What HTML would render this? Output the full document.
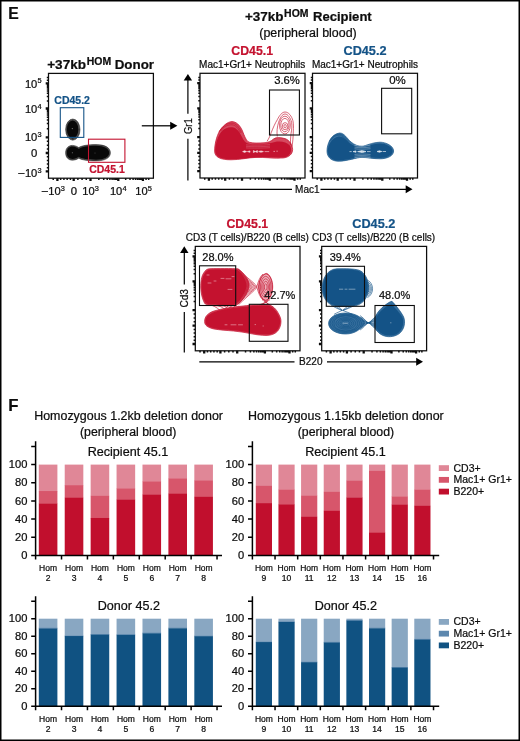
<!DOCTYPE html>
<html lang="en"><head><meta charset="utf-8"><title>Figure E-F</title>
<style>
html,body{margin:0;padding:0;background:#fff;}
body{width:520px;height:741px;overflow:hidden;}
svg{display:block;font-family:"Liberation Sans",Arial,Helvetica,sans-serif;fill:#0d0d0d;}
text{stroke:#0d0d0d;stroke-width:0.22px;}
.r{fill:#C4122F;stroke:#C4122F}
.u{fill:#145387;stroke:#145387}
.b{font-weight:bold}
.m{text-anchor:middle}
.e{text-anchor:end}
.ax{stroke:#000;stroke-width:1.5;fill:none}
.fr{stroke:#0d0d0d;stroke-width:1.25;fill:none}
.gt{stroke:#0d0d0d;stroke-width:1.1;fill:none}
.tk{stroke:#0d0d0d;fill:none}
</style></head><body>
<svg width="520" height="741" viewBox="0 0 520 741">
<rect x="0" y="0" width="520" height="741" fill="#fff"/>

<rect x="0.75" y="0.75" width="518.5" height="739.5" fill="none" stroke="#000" stroke-width="1.5"/>
<text x="8.3" y="19.0" font-size="15.7" class="b">E</text>
<text y="68.6" font-size="13.5" class="b"><tspan x="47.2" textLength="38.8" lengthAdjust="spacingAndGlyphs">+37kb</tspan><tspan x="86.8" dy="-4.1" font-size="10.2" textLength="24.4" lengthAdjust="spacingAndGlyphs">HOM</tspan><tspan x="110.95" dy="4.1" textLength="43.15" lengthAdjust="spacingAndGlyphs"> Donor</tspan></text>
<text y="21.1" font-size="13.5" class="b"><tspan x="245" textLength="38.6" lengthAdjust="spacingAndGlyphs">+37kb</tspan><tspan x="284.1" dy="-4.1" font-size="10.2" textLength="24.4" lengthAdjust="spacingAndGlyphs">HOM</tspan><tspan x="309.35" dy="4.1" textLength="62.35" lengthAdjust="spacingAndGlyphs"> Recipient</tspan></text>
<text x="308" y="36.5" font-size="12.45" class="m">(peripheral blood)</text>
<text x="252.2" y="55" font-size="12.3" class="b m r">CD45.1</text>
<text x="365" y="55" font-size="12.3" class="b m u" textLength="43" lengthAdjust="spacingAndGlyphs">CD45.2</text>
<text x="252.2" y="68" font-size="10" class="m">Mac1+Gr1+ Neutrophils</text>
<text x="365" y="68" font-size="10" class="m">Mac1+Gr1+ Neutrophils</text>
<rect x="48.5" y="73.4" width="104.9" height="104.8" class="fr"/>
<path d="M45.7,83.4H48.5M45.7,108.5H48.5M45.7,137.3H48.5M45.7,153.0H48.5M45.7,171.4H48.5M57.4,178.2V181.0M73.7,178.2V181.0M90.5,178.2V181.0M118.3,178.2V181.0M142.9,178.2V181.0" class="tk" stroke-width="2.3"/>
<path d="M46.8,100.94H48.5M46.8,96.51H48.5M46.8,93.36H48.5M46.8,90.93H48.5M46.8,88.94H48.5M46.8,87.25H48.5M46.8,85.79H48.5M46.8,84.51H48.5M46.8,128.65H48.5M46.8,123.58H48.5M46.8,119.98H48.5M46.8,117.18H48.5M46.8,114.90H48.5M46.8,112.97H48.5M46.8,111.30H48.5M46.8,109.83H48.5M46.8,141.26H48.5M46.8,145.19H48.5M46.8,149.12H48.5M46.8,156.72H48.5M46.8,160.38H48.5M46.8,164.05H48.5M46.8,167.72H48.5M46.8,80.21H48.5M46.8,77.59H48.5M98.83,178.2V179.9M103.72,178.2V179.9M107.20,178.2V179.9M109.89,178.2V179.9M112.09,178.2V179.9M113.95,178.2V179.9M115.56,178.2V179.9M116.99,178.2V179.9M125.68,178.2V179.9M130.02,178.2V179.9M133.10,178.2V179.9M135.49,178.2V179.9M137.44,178.2V179.9M139.09,178.2V179.9M140.52,178.2V179.9M141.78,178.2V179.9M60.67,178.2V179.9M63.92,178.2V179.9M67.17,178.2V179.9M70.42,178.2V179.9M77.87,178.2V179.9M82.07,178.2V179.9M86.26,178.2V179.9M146.06,178.2V179.9M148.68,178.2V179.9M53.22,178.2V179.9" class="tk" stroke-width="1.5"/>
<text y="87.5" font-size="10.3"><tspan x="24.9" textLength="12.4" lengthAdjust="spacingAndGlyphs">10</tspan><tspan x="37.4" dy="-4.1" font-size="7.4">5</tspan></text>
<text y="112.9" font-size="10.3"><tspan x="24.9" textLength="12.4" lengthAdjust="spacingAndGlyphs">10</tspan><tspan x="37.4" dy="-4.1" font-size="7.4">4</tspan></text>
<text y="141.1" font-size="10.3"><tspan x="24.9" textLength="12.4" lengthAdjust="spacingAndGlyphs">10</tspan><tspan x="37.4" dy="-4.1" font-size="7.4">3</tspan></text>
<text x="37.2" y="156.5" font-size="10.3" class="e" textLength="6.3" lengthAdjust="spacingAndGlyphs">0</text>
<text y="176.6" font-size="10.3"><tspan x="17.6" textLength="7.2" lengthAdjust="spacingAndGlyphs">−</tspan><tspan x="24.9" textLength="12.4" lengthAdjust="spacingAndGlyphs">10</tspan><tspan x="37.4" dy="-4.1" font-size="7.4">3</tspan></text>
<text y="195" font-size="10.3"><tspan x="41.0" textLength="7.2" lengthAdjust="spacingAndGlyphs">−</tspan><tspan x="48.3" textLength="12.4" lengthAdjust="spacingAndGlyphs">10</tspan><tspan x="60.8" dy="-4.1" font-size="7.4">3</tspan></text>
<text x="73.8" y="195" font-size="10.3" class="m" textLength="6.3" lengthAdjust="spacingAndGlyphs">0</text>
<text y="195" font-size="10.3"><tspan x="82.3" textLength="12.4" lengthAdjust="spacingAndGlyphs">10</tspan><tspan x="94.8" dy="-4.1" font-size="7.4">3</tspan></text>
<text y="195" font-size="10.3"><tspan x="109.9" textLength="12.4" lengthAdjust="spacingAndGlyphs">10</tspan><tspan x="122.4" dy="-4.1" font-size="7.4">4</tspan></text>
<text y="195" font-size="10.3"><tspan x="135.3" textLength="12.4" lengthAdjust="spacingAndGlyphs">10</tspan><tspan x="147.8" dy="-4.1" font-size="7.4">5</tspan></text>
<g fill="#4a4a4a" stroke="#1a1a1a" stroke-width="0.5">
<ellipse cx="72.8" cy="129.6" rx="7.2" ry="10.6"/>
<path d="M65.6,152.8 C65.6,148 68.6,145.4 72.4,145.4 C75,145.4 77,146.4 78.8,147.6 C81.5,145.6 88,144.6 96,144.6 C105.6,144.6 110.4,148 110.4,152.8 C110.4,157.6 105.6,160.9 96,160.9 C88,160.9 81.5,159.9 78.8,158.2 C77,159.3 75,160.2 72.4,160.2 C68.6,160.2 65.6,157.6 65.6,152.8 Z"/>
</g>
<g fill="#080808">
<ellipse cx="72.6" cy="129.4" rx="5.7" ry="9"/>
<path d="M66.8,152.8 C66.8,148.8 69.3,146.6 72.5,146.6 C75,146.6 77,147.8 78.8,149 C81.5,146.8 88,145.8 96,145.8 C104.6,145.8 109.2,148.8 109.2,152.8 C109.2,156.8 104.6,159.7 96,159.7 C88,159.7 81.5,158.7 78.8,156.8 C77,158 75,159 72.5,159 C69.3,159 66.8,156.8 66.8,152.8 Z"/>
</g>
<g fill="#fff" opacity="0.5"><circle cx="72.3" cy="128.6" r="0.6"/><circle cx="72.3" cy="152.8" r="0.5"/><circle cx="95" cy="153" r="0.4"/></g>
<rect x="60.3" y="107.7" width="23.5" height="29.7" fill="none" stroke="#145387" stroke-width="1.1"/>
<rect x="88.5" y="139.2" width="36.4" height="23.1" fill="none" stroke="#C4122F" stroke-width="1.1"/>
<text x="54.3" y="103.8" font-size="10.5" class="b u">CD45.2</text>
<text x="89.2" y="173" font-size="10.5" class="b r">CD45.1</text>
<line x1="141.8" y1="125.8" x2="171" y2="125.8" stroke="#000" stroke-width="1.25"/>
<path d="M177.4,125.8 L170.2,121.8 L170.2,129.8 Z" fill="#000"/>
<rect x="200" y="73.3" width="105.0" height="104.7" class="fr"/>
<path d="M197.2,83.2H200M197.2,108.4H200M197.2,137.2H200M197.2,152.9H200M197.2,171.2H200M208.9,178V180.8M225.2,178V180.8M242.0,178V180.8M269.8,178V180.8M294.5,178V180.8" class="tk" stroke-width="2.3"/>
<path d="M198.3,100.81H200M198.3,96.39H200M198.3,93.25H200M198.3,90.81H200M198.3,88.82H200M198.3,87.14H200M198.3,85.68H200M198.3,84.40H200M198.3,128.50H200M198.3,123.43H200M198.3,119.83H200M198.3,117.04H200M198.3,114.76H200M198.3,112.83H200M198.3,111.16H200M198.3,109.69H200M198.3,141.09H200M198.3,145.02H200M198.3,148.95H200M198.3,156.54H200M198.3,160.20H200M198.3,163.87H200M198.3,167.53H200M198.3,80.11H200M198.3,77.49H200M250.38,178V179.7M255.28,178V179.7M258.75,178V179.7M261.45,178V179.7M263.65,178V179.7M265.51,178V179.7M267.13,178V179.7M268.55,178V179.7M277.25,178V179.7M281.60,178V179.7M284.68,178V179.7M287.07,178V179.7M289.03,178V179.7M290.68,178V179.7M292.11,178V179.7M293.37,178V179.7M212.18,178V179.7M215.44,178V179.7M218.69,178V179.7M221.94,178V179.7M229.40,178V179.7M233.60,178V179.7M237.80,178V179.7M297.65,178V179.7M300.27,178V179.7M204.72,178V179.7" class="tk" stroke-width="1.5"/>
<rect x="312.5" y="73.3" width="105.0" height="104.7" class="fr"/>
<path d="M309.7,83.2H312.5M309.7,108.4H312.5M309.7,137.2H312.5M309.7,152.9H312.5M309.7,171.2H312.5M321.4,178V180.8M337.7,178V180.8M354.5,178V180.8M382.3,178V180.8M407.0,178V180.8" class="tk" stroke-width="2.3"/>
<path d="M310.8,100.81H312.5M310.8,96.39H312.5M310.8,93.25H312.5M310.8,90.81H312.5M310.8,88.82H312.5M310.8,87.14H312.5M310.8,85.68H312.5M310.8,84.40H312.5M310.8,128.50H312.5M310.8,123.43H312.5M310.8,119.83H312.5M310.8,117.04H312.5M310.8,114.76H312.5M310.8,112.83H312.5M310.8,111.16H312.5M310.8,109.69H312.5M310.8,141.09H312.5M310.8,145.02H312.5M310.8,148.95H312.5M310.8,156.54H312.5M310.8,160.20H312.5M310.8,163.87H312.5M310.8,167.53H312.5M310.8,80.11H312.5M310.8,77.49H312.5M362.88,178V179.7M367.78,178V179.7M371.25,178V179.7M373.95,178V179.7M376.15,178V179.7M378.01,178V179.7M379.63,178V179.7M381.05,178V179.7M389.75,178V179.7M394.10,178V179.7M397.18,178V179.7M399.57,178V179.7M401.53,178V179.7M403.18,178V179.7M404.61,178V179.7M405.87,178V179.7M324.68,178V179.7M327.94,178V179.7M331.19,178V179.7M334.44,178V179.7M341.90,178V179.7M346.10,178V179.7M350.30,178V179.7M410.15,178V179.7M412.77,178V179.7M317.23,178V179.7" class="tk" stroke-width="1.5"/>
<line x1="187.9" y1="79.0" x2="187.9" y2="113.7" stroke="#000" stroke-width="1.2"/>
<line x1="187.9" y1="138.8" x2="187.9" y2="180.4" stroke="#000" stroke-width="1.2"/>
<path d="M187.9,74.0 L183.70000000000002,80.6 L192.1,80.6 Z" fill="#000"/>
<text x="191.8" y="126.1" font-size="10.8" class="m" textLength="16" lengthAdjust="spacingAndGlyphs" transform="rotate(-90 191.8 126.1)">Gr1</text>
<line x1="199.3" y1="189.3" x2="292" y2="189.3" stroke="#000" stroke-width="1.2"/>
<line x1="320.5" y1="189.3" x2="407.5" y2="189.3" stroke="#000" stroke-width="1.2"/>
<path d="M412.5,189.3 L405.7,185.25 L405.7,193.35000000000002 Z" fill="#000"/>
<text x="307.3" y="192.9" font-size="10" class="m">Mac1</text>
<g stroke-linejoin="round">
<path d="M214.6,151 C214.6,144 217,133 222,127.6 C225.5,123.6 229,121.6 232,121.6 C236,121.6 240,125 242.5,131 C244.5,136 246,140.5 249,142.2 C253,143.4 259,143 264,142.8 C268,142.6 271,141.4 273.5,139 C276,137 281,137.4 285,138.6 C289.5,140 292.6,145 292.6,149.5 C292.6,154 289,157.4 283,158 C275,158.6 265,157.2 256,157.4 C248,157.6 240,159.8 231,159.8 C221,159.8 214.6,157.5 214.6,151 Z" fill="#D5485E" stroke="#C4122F" stroke-width="0.7"/>
<path d="M215.2,151 C215.2,145 217.6,135.6 222,131 C225.6,127.6 230,126.6 233.6,127.6 C237.6,128.8 240,133 242,137 C243.6,140.6 245.6,143 249,143.8 C253,144.6 259,144.2 264,144 C269,143.8 273,142.4 277,141.6 C282,141 287,142.4 289.8,145.6 C292,148.6 291.6,154 287,156.6 C282,158.2 272,156.9 262,157 C252,157.1 242,159.3 231,159.3 C222,159.3 215.2,157 215.2,151 Z" fill="#C4122F"/>
<path d="M267,141.3 C269,138.6 270.4,135 271.2,132.7 C273,128 275,123.4 277.3,119.7 C279.4,115.6 282,112 285,112 C288.6,112 291.6,116 292.9,120.6 C293.6,124 293.6,128 293.3,131 C293.2,137 292.8,142 292,146.5 M277.3,136.5 C276.6,132 277.2,126.6 278.6,122.3 C280,118 282.2,114 285,114 C288,114 290.4,118 291.6,122.3 C292.2,126 291.8,130 291,133.5 C290.6,137 290.4,141 290.4,145 M279.5,125.1 a5.4,8.9 0 1,0 10.8,0 a5.4,8.9 0 1,0 -10.8,0 M280.8,125.1 a4.1,6.7 0 1,0 8.2,0 a4.1,6.7 0 1,0 -8.2,0 M282.3,126.2 a2.8,3.6 0 1,0 5.6,0 a2.8,3.6 0 1,0 -5.6,0 M283.9,126.2 a1.2,1.7 0 1,0 2.4,0 a1.2,1.7 0 1,0 -2.4,0 M219,132 C222,126.6 227,123 232,123.2 C236,123.4 239,127 241.4,132.4 M220.6,131 C223.4,126.8 227.6,124.6 232,124.8 C235.6,125 238.4,128.4 240.4,133" fill="none" stroke="#C4122F" stroke-width="0.65"/>
</g>
<path d="M246,144.8 C252,145.4 262,145.4 270,144.5 M246,146.3 C252,146.8 262,146.8 270,146.1 M246,147.9 C252,148.2 262,148.2 270,147.7" fill="none" stroke="#fff" stroke-width="0.55" opacity="0.35"/>
<path d="M242.6,151.6 l2,-0.8 l2,0.8 l-2,0.8 Z M247.4,151.6 l2.6,-0.7 v1.4 Z M253.4,150.6 l2,1 l2,-1 v2 l-2,-1 l-2,1 Z M258.6,151.6 l2.4,-0.7 l2.4,0.7 l-2.4,0.7 Z M264.6,151.6 h4.6 M273.4,151.4 h1.6 M276.4,151.2 h1.4" fill="#fff" stroke="#fff" stroke-width="0.6" opacity="0.85" stroke-linejoin="round"/>
<rect x="269.5" y="90" width="29.9" height="45" class="gt"/>
<text x="287" y="84.3" font-size="10.5" class="m" textLength="25.7" lengthAdjust="spacingAndGlyphs">3.6%</text>
<g stroke-linejoin="round">
<path d="M327,151 C327,144 331,134 339.6,133 C344.5,133 347,138.6 351,142 C354.6,145 358,146.2 362,146.2 C366,146 371,142.6 380,142.2 C386,142.2 393.6,146 393.6,151 C393.6,156 387,158.8 380,158.8 C373,158.8 367,157.4 362,157.4 C356,157.4 348,161.2 338,161.2 C331,161 327,157 327,151 Z" fill="#3A72A0" stroke="#145387" stroke-width="0.7"/>
<path d="M327.8,151 C327.8,145.4 331.4,137.6 338.8,136.4 C344,136.2 347,141 351,144 C354.6,146.4 358,147.2 362,147.2 C366,147 371,143.8 380,143.4 C385.6,143.4 392.6,146.6 392.6,151 C392.6,155.4 386.6,157.9 380,157.9 C373,157.9 367,156.5 362,156.5 C356,156.5 348,160.4 338,160.4 C331.6,160.2 327.8,156.6 327.8,151 Z" fill="#145387"/>
<path d="M329.4,141.6 C331.6,136.6 335.4,134.2 339.4,134.2 C343.4,134.4 346,138.6 349,141.6 M330.8,140.6 C333,136.8 336,135.2 339.4,135.2 C342.6,135.4 345,139 347.8,141.8" fill="none" stroke="#145387" stroke-width="0.65"/>
</g>
<path d="M354.5,145.3 C359,146.4 365,146.4 370.5,145.1 M354.5,147.1 C359,147.9 365,147.9 370.5,147.0 M354.5,148.8 C359,149.3 365,149.3 370.5,148.7 M354.5,154.4 C359,153.9 365,153.9 370.5,154.5 M354.5,156.1 C359,155.3 365,155.3 370.5,156.2 M354.5,157.7 C359,156.6 365,156.6 370.5,157.8" fill="none" stroke="#fff" stroke-width="0.6" opacity="0.5"/>
<path d="M349.5,151.6 h2.2 M353,151.6 l3,-0.7 v1.4 Z M357.6,151.6 l4.6,-1 v2 Z M362.6,150.7 l3.4,0.9 l-3.4,0.9 Z M367,151.6 h3.6 M377,151.5 l2.4,-0.7 l2.4,0.7 l-2.4,0.7 Z M382.6,151.5 h3.4" fill="#fff" stroke="#fff" stroke-width="0.7" opacity="0.85" stroke-linejoin="round"/>
<rect x="381.6" y="88.3" width="30.1" height="45.5" class="gt"/>
<text x="397.5" y="84.3" font-size="10.5" class="m" textLength="16.6" lengthAdjust="spacingAndGlyphs">0%</text>
<text x="247.3" y="228" font-size="12.3" class="b m r">CD45.1</text>
<text x="373.8" y="228" font-size="12.3" class="b m u" textLength="43" lengthAdjust="spacingAndGlyphs">CD45.2</text>
<text x="247.3" y="241.3" font-size="10" class="m">CD3 (T cells)/B220 (B cells)</text>
<text x="373.6" y="241.3" font-size="10" class="m">CD3 (T cells)/B220 (B cells)</text>
<rect x="195.3" y="246.4" width="104.7" height="104.4" class="fr"/>
<path d="M192.5,256.3H195.3M192.5,281.4H195.3M192.5,310.1H195.3M192.5,325.7H195.3M192.5,344.0H195.3M204.2,350.8V353.6M220.4,350.8V353.6M237.2,350.8V353.6M264.9,350.8V353.6M289.5,350.8V353.6" class="tk" stroke-width="2.3"/>
<path d="M193.6,273.83H195.3M193.6,269.42H195.3M193.6,266.29H195.3M193.6,263.86H195.3M193.6,261.88H195.3M193.6,260.20H195.3M193.6,258.75H195.3M193.6,257.46H195.3M193.6,301.44H195.3M193.6,296.39H195.3M193.6,292.80H195.3M193.6,290.02H195.3M193.6,287.74H195.3M193.6,285.82H195.3M193.6,284.16H195.3M193.6,282.69H195.3M193.6,314.00H195.3M193.6,317.91H195.3M193.6,321.83H195.3M193.6,329.40H195.3M193.6,333.05H195.3M193.6,336.71H195.3M193.6,340.36H195.3M193.6,253.19H195.3M193.6,250.58H195.3M245.53,350.8V352.5M250.42,350.8V352.5M253.88,350.8V352.5M256.57,350.8V352.5M258.77,350.8V352.5M260.63,350.8V352.5M262.24,350.8V352.5M263.66,350.8V352.5M272.33,350.8V352.5M276.66,350.8V352.5M279.74,350.8V352.5M282.12,350.8V352.5M284.07,350.8V352.5M285.72,350.8V352.5M287.15,350.8V352.5M288.40,350.8V352.5M207.45,350.8V352.5M210.69,350.8V352.5M213.94,350.8V352.5M217.18,350.8V352.5M224.62,350.8V352.5M228.80,350.8V352.5M232.99,350.8V352.5M292.67,350.8V352.5M295.29,350.8V352.5M200.01,350.8V352.5" class="tk" stroke-width="1.5"/>
<rect x="321.7" y="246.4" width="104.9" height="104.4" class="fr"/>
<path d="M318.9,256.3H321.7M318.9,281.4H321.7M318.9,310.1H321.7M318.9,325.7H321.7M318.9,344.0H321.7M330.6,350.8V353.6M346.9,350.8V353.6M363.7,350.8V353.6M391.5,350.8V353.6M416.1,350.8V353.6" class="tk" stroke-width="2.3"/>
<path d="M320.0,273.83H321.7M320.0,269.42H321.7M320.0,266.29H321.7M320.0,263.86H321.7M320.0,261.88H321.7M320.0,260.20H321.7M320.0,258.75H321.7M320.0,257.46H321.7M320.0,301.44H321.7M320.0,296.39H321.7M320.0,292.80H321.7M320.0,290.02H321.7M320.0,287.74H321.7M320.0,285.82H321.7M320.0,284.16H321.7M320.0,282.69H321.7M320.0,314.00H321.7M320.0,317.91H321.7M320.0,321.83H321.7M320.0,329.40H321.7M320.0,333.05H321.7M320.0,336.71H321.7M320.0,340.36H321.7M320.0,253.19H321.7M320.0,250.58H321.7M372.03,350.8V352.5M376.92,350.8V352.5M380.40,350.8V352.5M383.09,350.8V352.5M385.29,350.8V352.5M387.15,350.8V352.5M388.76,350.8V352.5M390.19,350.8V352.5M398.88,350.8V352.5M403.22,350.8V352.5M406.30,350.8V352.5M408.69,350.8V352.5M410.64,350.8V352.5M412.29,350.8V352.5M413.72,350.8V352.5M414.98,350.8V352.5M333.87,350.8V352.5M337.12,350.8V352.5M340.37,350.8V352.5M343.62,350.8V352.5M351.07,350.8V352.5M355.27,350.8V352.5M359.46,350.8V352.5M419.26,350.8V352.5M421.88,350.8V352.5M326.42,350.8V352.5" class="tk" stroke-width="1.5"/>
<line x1="184.3" y1="251.3" x2="184.3" y2="284.5" stroke="#000" stroke-width="1.2"/>
<line x1="184.3" y1="312" x2="184.3" y2="352.5" stroke="#000" stroke-width="1.2"/>
<path d="M184.3,246.3 L180.10000000000002,252.9 L188.5,252.9 Z" fill="#000"/>
<text x="188.2" y="298.3" font-size="10.8" class="m" textLength="18.6" lengthAdjust="spacingAndGlyphs" transform="rotate(-90 188.2 298.3)">Cd3</text>
<line x1="199.3" y1="361.8" x2="294.5" y2="361.8" stroke="#000" stroke-width="1.2"/>
<line x1="327" y1="361.8" x2="418" y2="361.8" stroke="#000" stroke-width="1.2"/>
<path d="M423,361.8 L416.2,357.75 L416.2,365.85 Z" fill="#000"/>
<text x="310.8" y="365.40000000000003" font-size="10" class="m">B220</text>
<path d="M258.5,287 C258.5,281 262,274.2 266.8,273.4 C270.4,275 272.7,281 272.7,287 C272.7,293 270,299.8 266,301 C262,300 258.5,293 258.5,287 Z" fill="#EDB0BA" stroke="#C4122F" stroke-width="0.7"/>
<g stroke-linejoin="round">
<path d="M200.8,288 C200.6,282 201.5,276 203.7,273 C205.5,270 207,268.8 210,268.7 C218,268.5 232,268.5 238,268.8 C241,270.4 245,275 247.4,279 C248.6,281.6 249,283.6 249,285.6 C249,288 248,291 246,294.4 C243.6,298.4 240.6,302.6 236.3,305.2 C228,306.6 214,306 208,305 C205.6,304.4 204.6,303.8 204,302 C202,298 201,293 200.8,288 Z" fill="#D24158" stroke="#C4122F" stroke-width="0.7"/>
<path d="M204.6,321.5 C204.6,316.5 208,313 214,311 C222,308.6 233,306.8 243,306 C252,305 262,304.2 268,304.6 C273,305.6 276.6,309.6 278.6,313.8 C280.2,316.6 281,319 281,321.5 C281,325 279.8,328.4 277.7,331 C275,334 271,335.6 266,335.4 C261,335.4 257,334.8 252.7,334 C246,332.6 240,331.6 233.5,331 C226,330.4 220,330 214,329 C208,327.6 204.6,325.6 204.6,321.5 Z" fill="#D24158" stroke="#C4122F" stroke-width="0.7"/>
<path d="M201.6,288 C201.4,282 202.4,276.6 204.4,273.8 C206,271 207.6,269.6 210.4,269.5 C219,269.3 230,269.3 237,269.6 C240,271.4 243,275.4 245,279.4 C246,281.8 246.4,283.6 246.4,285.6 C246.4,288 245.6,290.6 244,293.6 C241.8,297.8 239.4,301.6 235.6,304.4 C228,305.8 214,305.2 208.6,304.3 C206.4,303.7 205.4,303 204.8,301.6 C202.8,297.6 201.8,293 201.6,288 Z" fill="#C4122F"/>
<path d="M205.4,321.5 C205.4,317 208.6,313.8 214.4,311.9 C222,309.6 233,307.8 243,307 C252,306 262,305.2 267.8,305.6 C272.4,306.6 275.8,310.2 277.8,314.2 C279.4,317 280.2,319.2 280.2,321.5 C280.2,324.8 279,328 277,330.4 C274.4,333.2 270.8,334.6 266,334.6 C261,334.6 257,334 253,333.2 C246,331.8 240,330.8 233.5,330.2 C226,329.6 220,329.2 214.2,328.2 C208.6,327 205.4,325.2 205.4,321.5 Z" fill="#C4122F"/>
<path d="M238.5,284.9 C241.2,286.1 243.0,286.7 243.0,286.9 C243.0,287.1 241.2,287.7 238.5,289.0 M238.5,283.9 C242.0,285.7 244.3,286.5 244.3,286.9 C244.3,287.3 242.0,288.2 238.5,290.0 M238.5,282.7 C242.7,285.2 245.5,286.4 245.5,286.9 C245.5,287.4 242.7,288.7 238.5,291.2 M238.5,281.4 C243.5,284.7 246.8,286.2 246.8,286.9 C246.8,287.6 243.5,289.2 238.5,292.5 M238.5,280.1 C244.2,284.2 248.0,286.1 248.0,286.9 C248.0,287.7 244.2,289.8 238.5,293.9 M238.5,278.7 C245.0,283.6 249.3,285.9 249.3,286.9 C249.3,287.9 245.0,290.4 238.5,295.4 M238.5,277.2 C245.7,283.0 250.5,285.7 250.5,286.9 C250.5,288.1 245.7,291.0 238.5,296.9 M238.5,275.7 C246.5,282.4 251.8,285.6 251.8,286.9 C251.8,288.2 246.5,291.6 238.5,298.4 M238.5,274.2 C247.2,281.8 253.0,285.4 253.0,286.9 C253.0,288.4 247.2,292.2 238.5,300.0 M238.5,272.7 C248.0,281.2 254.3,285.2 254.3,286.9 C254.3,288.6 248.0,292.9 238.5,301.6 M238.5,271.1 C248.7,280.6 255.5,285.0 255.5,286.9 C255.5,288.8 248.7,293.5 238.5,303.2 M238.5,269.5 C249.5,279.9 256.8,284.8 256.8,286.9 C256.8,289.0 249.5,294.2 238.5,304.8 M264.3,287.0 a1.4,3.2 0 1,0 2.8,0 a1.4,3.2 0 1,0 -2.8,0 M263.0,287.0 a2.7,5.7 0 1,0 5.4,0 a2.7,5.7 0 1,0 -5.4,0 M261.7,287.0 a4.0,8.2 0 1,0 8.0,0 a4.0,8.2 0 1,0 -8.0,0 M260.4,287.0 a5.3,10.7 0 1,0 10.6,0 a5.3,10.7 0 1,0 -10.6,0 M259.1,287.0 a6.6,13.2 0 1,0 13.2,0 a6.6,13.2 0 1,0 -13.2,0 M256.8,286.9 C258,282 260,276.4 263,274 M256.8,286.9 C258,291.6 260,297.6 263,300 M218,305.6 C222,307 225,309 227,311.4 M232,305.6 C229.6,307.4 227.6,309.4 226,311.4 M224,305.6 C226,307.6 228,309.2 230,311 M236,305.4 C234,307.4 232,308.8 230,310.4 M212,305.4 C216,307 219,309 221,311.6 M228,305.8 C227,307.6 225,309.6 222,311.6 M262,299.6 C264,301 267,303 270,305 M270,299.6 C268,301.2 264,303.2 259,305 M264,300.6 C265.4,301.6 267.6,303.2 269,305 M268,300.6 C266.6,301.8 263.6,303.6 261,305" fill="none" stroke="#C4122F" stroke-width="0.65"/>
<path d="M221,278.4 h3 M226,278.8 h5 M208,283 h3 M214,281 h2 M228,289.4 h4 M225,324.8 h2 M231,324.8 h5 M238.5,324.8 h4 M255,324.6 h0.6 M263,326 h0.4 M207,275 h2 M232,276.6 h2" fill="none" stroke="#fff" stroke-width="0.7" opacity="0.6" stroke-linecap="round"/>
</g>
<rect x="199.5" y="265.8" width="36.2" height="39.7" class="gt"/>
<rect x="249.3" y="304.3" width="38.7" height="37" class="gt"/>
<text x="217.9" y="261.3" font-size="10.5" class="m" textLength="31.2" lengthAdjust="spacingAndGlyphs">28.0%</text>
<text x="279.8" y="299.3" font-size="10.5" class="m" textLength="31.2" lengthAdjust="spacingAndGlyphs">42.7%</text>
<g stroke-linejoin="round">
<path d="M322.2,288 C322.2,279 327,269.2 337,268.8 C345,268.6 354,268.7 359,270.2 C365,272.6 368.6,280 368.6,287.6 C368.6,296 364,303.6 356,305.6 C350,306.8 341,306.8 335,306 C327,304.6 322.2,297 322.2,288 Z" fill="#356E9D" stroke="#145387" stroke-width="0.7"/>
<path d="M328.6,323.4 C328.6,317.5 336,313 345.6,313 C355,313 362,317.4 365,322.6 C362,328.6 355,334 345.6,334 C336,334 328.6,329.4 328.6,323.4 Z" fill="#356E9D" stroke="#145387" stroke-width="0.7"/>
<path d="M392,301.3 C394.5,304 401,311.4 403.6,317 C405.6,322 404.6,329.6 399,333.8 C394,337.2 387,337.6 382,335 C376.6,332 374,327.4 374,322.4 C374,316.4 379,310 384,306 C387,303.8 390,301.3 392,301.3 Z" fill="#356E9D" stroke="#145387" stroke-width="0.7"/>
<path d="M323,288 C323,279.4 327.6,270 337.2,269.6 C345,269.4 353.8,269.5 358.8,271 C364.4,273.4 367.6,280.4 367.6,287.6 C367.6,295.6 363.4,302.8 355.8,304.8 C349.8,306 341,306 335.2,305.2 C327.6,303.8 323,296.6 323,288 Z" fill="#145387"/>
<path d="M391.8,304.6 C394.2,307.2 399.8,312.6 402.4,317.6 C404.2,322.2 403.2,329 398.2,333 C393.6,336.2 387.2,336.4 382.6,334 C377.6,331.2 375.2,327 375.2,322.4 C375.2,317 379.8,311.4 384.6,307.8 C387.4,305.8 390,304.6 391.8,304.6 Z" fill="#145387"/>
<path d="M367.4,284.8 C369.8,286.4 369.8,291.2 367.4,292.8 M367.4,283.2 C371.3,285.4 371.3,292.2 367.4,294.4 M367.4,281.6 C372.8,284.5 372.8,293.1 367.4,296.0 M367.4,280.0 C374.3,283.5 374.3,294.1 367.4,297.6 M343.8,323.4 a2.0,1.2 0 1,0 4.0,0 a2.0,1.2 0 1,0 -4.0,0 M341.8,323.4 a4.0,2.3 0 1,0 7.9,0 a4.0,2.3 0 1,0 -7.9,0 M339.9,323.4 a5.9,3.5 0 1,0 11.9,0 a5.9,3.5 0 1,0 -11.9,0 M337.9,323.4 a7.9,4.6 0 1,0 15.8,0 a7.9,4.6 0 1,0 -15.8,0 M335.9,323.4 a9.9,5.8 0 1,0 19.8,0 a9.9,5.8 0 1,0 -19.8,0 M333.9,323.4 a11.9,6.9 0 1,0 23.7,0 a11.9,6.9 0 1,0 -23.7,0 M332.0,323.4 a13.8,8.1 0 1,0 27.7,0 a13.8,8.1 0 1,0 -27.7,0 M330.0,323.4 a15.8,9.2 0 1,0 31.6,0 a15.8,9.2 0 1,0 -31.6,0 M362.5,321.6 C365,322.2 366.6,322.7 368.2,322.8 C366.6,322.9 365,323.4 362.5,324.0 M376.0,321.5 C373,322.1 370.4,322.7 368.6,322.8 C370.4,322.9 373,323.5 376.0,324.1 M361.9,320.1 C365,321.4 366.6,322.5 368.2,322.8 C366.6,323.1 365,324.2 361.9,325.5 M376.3,319.8 C373,321.2 370.4,322.5 368.6,322.8 C370.4,323.1 373,324.4 376.3,325.8 M361.3,318.6 C365,320.7 366.6,322.4 368.2,322.8 C366.6,323.2 365,324.9 361.3,327.0 M376.6,318.2 C373,320.3 370.4,322.4 368.6,322.8 C370.4,323.2 373,325.3 376.6,327.4 M360.7,317.1 C365,319.9 366.6,322.2 368.2,322.8 C366.6,323.4 365,325.7 360.7,328.5 M376.9,316.5 C373,319.4 370.4,322.2 368.6,322.8 C370.4,323.4 373,326.2 376.9,329.1 M360.1,315.6 C365,319.2 366.6,322.1 368.2,322.8 C366.6,323.5 365,326.4 360.1,330.0 M377.2,314.9 C373,318.5 370.4,322.1 368.6,322.8 C370.4,323.5 373,327.1 377.2,330.7 M335,306 C338,308 340.4,309.4 342,310.4 C340.4,311.4 337,312.6 334,314.4 M351,306 C348,308 345.4,309.4 342.6,310.4 C345.4,311.4 349,312.6 352,314.4 M338,306.4 C340,308 341.4,309 342.3,310.4 M347.6,306.4 C345.6,308 344,309 342.9,310.4 M331,305 C335,307.6 339,309.4 342,310.4 M355,305 C351,307.6 346,309.4 342.6,310.4" fill="none" stroke="#145387" stroke-width="0.65"/>
<path d="M339.4,289.2 h3.4 M345,289.2 h2 M349,289.2 h6 M343,323.2 h4.6 M390.6,322.8 h0.4" fill="none" stroke="#fff" stroke-width="0.7" opacity="0.6" stroke-linecap="round"/>
</g>
<rect x="326.3" y="266.3" width="38.2" height="40" class="gt"/>
<rect x="375" y="305.5" width="39.3" height="37" class="gt"/>
<text x="345.3" y="260.7" font-size="10.5" class="m" textLength="31.2" lengthAdjust="spacingAndGlyphs">39.4%</text>
<text x="394.6" y="299.3" font-size="10.5" class="m" textLength="31.2" lengthAdjust="spacingAndGlyphs">48.0%</text>
<text x="8.2" y="410.9" font-size="15.7" class="b" textLength="10.2" lengthAdjust="spacingAndGlyphs">F</text>
<text x="128.6" y="420" font-size="12.45" class="m">Homozygous 1.2kb deletion donor</text>
<text x="128.2" y="435.5" font-size="12.3" class="m">(peripheral blood)</text>
<text x="345.9" y="420" font-size="12.45" class="m">Homozygous 1.15kb deletion donor</text>
<text x="345.9" y="435.5" font-size="12.3" class="m">(peripheral blood)</text>
<rect x="38.80" y="464.60" width="18.6" height="26.72" fill="#E08797"/>
<rect x="38.80" y="491.02" width="18.6" height="12.74" fill="#D7566B"/>
<rect x="38.80" y="503.46" width="18.6" height="51.94" fill="#C10F2D"/>
<rect x="64.72" y="464.60" width="18.6" height="20.82" fill="#E08797"/>
<rect x="64.72" y="485.12" width="18.6" height="12.92" fill="#D7566B"/>
<rect x="64.72" y="497.74" width="18.6" height="57.66" fill="#C10F2D"/>
<rect x="90.64" y="464.60" width="18.6" height="31.54" fill="#E08797"/>
<rect x="90.64" y="495.84" width="18.6" height="22.46" fill="#D7566B"/>
<rect x="90.64" y="517.99" width="18.6" height="37.41" fill="#C10F2D"/>
<rect x="116.56" y="464.60" width="18.6" height="24.00" fill="#E08797"/>
<rect x="116.56" y="488.30" width="18.6" height="11.56" fill="#D7566B"/>
<rect x="116.56" y="499.56" width="18.6" height="55.84" fill="#C10F2D"/>
<rect x="142.48" y="464.60" width="18.6" height="17.01" fill="#E08797"/>
<rect x="142.48" y="481.31" width="18.6" height="13.56" fill="#D7566B"/>
<rect x="142.48" y="494.56" width="18.6" height="60.84" fill="#C10F2D"/>
<rect x="168.40" y="464.60" width="18.6" height="14.01" fill="#E08797"/>
<rect x="168.40" y="478.31" width="18.6" height="15.65" fill="#D7566B"/>
<rect x="168.40" y="493.66" width="18.6" height="61.74" fill="#C10F2D"/>
<rect x="194.32" y="464.60" width="18.6" height="16.01" fill="#E08797"/>
<rect x="194.32" y="480.31" width="18.6" height="16.83" fill="#D7566B"/>
<rect x="194.32" y="496.83" width="18.6" height="58.57" fill="#C10F2D"/>
<path d="M35.6,441.3 V555.4 H222" class="ax"/>
<text x="27.4" y="559.00" font-size="10.4" class="e" textLength="6.2" lengthAdjust="spacingAndGlyphs">0</text>
<text x="27.4" y="540.84" font-size="10.4" class="e" textLength="12.4" lengthAdjust="spacingAndGlyphs">20</text>
<text x="27.4" y="522.68" font-size="10.4" class="e" textLength="12.4" lengthAdjust="spacingAndGlyphs">40</text>
<text x="27.4" y="504.52" font-size="10.4" class="e" textLength="12.4" lengthAdjust="spacingAndGlyphs">60</text>
<text x="27.4" y="486.36" font-size="10.4" class="e" textLength="12.4" lengthAdjust="spacingAndGlyphs">80</text>
<text x="27.4" y="468.20" font-size="10.4" class="e" textLength="18.6" lengthAdjust="spacingAndGlyphs">100</text>
<path d="M31.2,555.40H35.6M31.2,537.24H35.6M31.2,519.08H35.6M31.2,500.92H35.6M31.2,482.76H35.6M31.2,464.60H35.6M31.2,446.44H35.6M35.60,555.4V559.4M61.52,555.4V559.4M87.44,555.4V559.4M113.36,555.4V559.4M139.28,555.4V559.4M165.20,555.4V559.4M191.12,555.4V559.4M217.04,555.4V559.4" class="ax"/>
<text x="48.10" y="570.80" font-size="8.5" class="m">Hom</text>
<text x="48.10" y="581.30" font-size="8.6" class="m">2</text>
<text x="74.02" y="570.80" font-size="8.5" class="m">Hom</text>
<text x="74.02" y="581.30" font-size="8.6" class="m">3</text>
<text x="99.94" y="570.80" font-size="8.5" class="m">Hom</text>
<text x="99.94" y="581.30" font-size="8.6" class="m">4</text>
<text x="125.86" y="570.80" font-size="8.5" class="m">Hom</text>
<text x="125.86" y="581.30" font-size="8.6" class="m">5</text>
<text x="151.78" y="570.80" font-size="8.5" class="m">Hom</text>
<text x="151.78" y="581.30" font-size="8.6" class="m">6</text>
<text x="177.70" y="570.80" font-size="8.5" class="m">Hom</text>
<text x="177.70" y="581.30" font-size="8.6" class="m">7</text>
<text x="203.62" y="570.80" font-size="8.5" class="m">Hom</text>
<text x="203.62" y="581.30" font-size="8.6" class="m">8</text>
<text x="127.9" y="455.70" font-size="12.6" class="m">Recipient 45.1</text>
<rect x="255.80" y="464.60" width="16.2" height="21.55" fill="#E08797"/>
<rect x="255.80" y="485.85" width="16.2" height="17.55" fill="#D7566B"/>
<rect x="255.80" y="503.10" width="16.2" height="52.30" fill="#C10F2D"/>
<rect x="278.44" y="464.60" width="16.2" height="25.27" fill="#E08797"/>
<rect x="278.44" y="489.57" width="16.2" height="15.01" fill="#D7566B"/>
<rect x="278.44" y="504.28" width="16.2" height="51.12" fill="#C10F2D"/>
<rect x="301.08" y="464.60" width="16.2" height="31.26" fill="#E08797"/>
<rect x="301.08" y="495.56" width="16.2" height="21.55" fill="#D7566B"/>
<rect x="301.08" y="516.81" width="16.2" height="38.59" fill="#C10F2D"/>
<rect x="323.72" y="464.60" width="16.2" height="27.54" fill="#E08797"/>
<rect x="323.72" y="491.84" width="16.2" height="19.28" fill="#D7566B"/>
<rect x="323.72" y="510.82" width="16.2" height="44.58" fill="#C10F2D"/>
<rect x="346.36" y="464.60" width="16.2" height="16.28" fill="#E08797"/>
<rect x="346.36" y="480.58" width="16.2" height="17.28" fill="#D7566B"/>
<rect x="346.36" y="497.56" width="16.2" height="57.84" fill="#C10F2D"/>
<rect x="369.00" y="464.60" width="16.2" height="6.57" fill="#E08797"/>
<rect x="369.00" y="470.87" width="16.2" height="62.13" fill="#D7566B"/>
<rect x="369.00" y="532.70" width="16.2" height="22.70" fill="#C10F2D"/>
<rect x="391.64" y="464.60" width="16.2" height="32.08" fill="#E08797"/>
<rect x="391.64" y="496.38" width="16.2" height="8.47" fill="#D7566B"/>
<rect x="391.64" y="504.55" width="16.2" height="50.85" fill="#C10F2D"/>
<rect x="414.28" y="464.60" width="16.2" height="25.27" fill="#E08797"/>
<rect x="414.28" y="489.57" width="16.2" height="16.55" fill="#D7566B"/>
<rect x="414.28" y="505.82" width="16.2" height="49.58" fill="#C10F2D"/>
<path d="M252.4,441.3 V555.4 H439.2" class="ax"/>
<text x="244.2" y="559.00" font-size="10.4" class="e" textLength="6.2" lengthAdjust="spacingAndGlyphs">0</text>
<text x="244.2" y="540.84" font-size="10.4" class="e" textLength="12.4" lengthAdjust="spacingAndGlyphs">20</text>
<text x="244.2" y="522.68" font-size="10.4" class="e" textLength="12.4" lengthAdjust="spacingAndGlyphs">40</text>
<text x="244.2" y="504.52" font-size="10.4" class="e" textLength="12.4" lengthAdjust="spacingAndGlyphs">60</text>
<text x="244.2" y="486.36" font-size="10.4" class="e" textLength="12.4" lengthAdjust="spacingAndGlyphs">80</text>
<text x="244.2" y="468.20" font-size="10.4" class="e" textLength="18.6" lengthAdjust="spacingAndGlyphs">100</text>
<path d="M248.0,555.40H252.4M248.0,537.24H252.4M248.0,519.08H252.4M248.0,500.92H252.4M248.0,482.76H252.4M248.0,464.60H252.4M248.0,446.44H252.4M252.40,555.4V559.4M275.04,555.4V559.4M297.68,555.4V559.4M320.32,555.4V559.4M342.96,555.4V559.4M365.60,555.4V559.4M388.24,555.4V559.4M410.88,555.4V559.4M433.52,555.4V559.4" class="ax"/>
<text x="263.90" y="570.80" font-size="8.5" class="m">Hom</text>
<text x="263.90" y="581.30" font-size="8.6" class="m">9</text>
<text x="286.54" y="570.80" font-size="8.5" class="m">Hom</text>
<text x="286.54" y="581.30" font-size="8.6" class="m">10</text>
<text x="309.18" y="570.80" font-size="8.5" class="m">Hom</text>
<text x="309.18" y="581.30" font-size="8.6" class="m">11</text>
<text x="331.82" y="570.80" font-size="8.5" class="m">Hom</text>
<text x="331.82" y="581.30" font-size="8.6" class="m">12</text>
<text x="354.46" y="570.80" font-size="8.5" class="m">Hom</text>
<text x="354.46" y="581.30" font-size="8.6" class="m">13</text>
<text x="377.10" y="570.80" font-size="8.5" class="m">Hom</text>
<text x="377.10" y="581.30" font-size="8.6" class="m">14</text>
<text x="399.74" y="570.80" font-size="8.5" class="m">Hom</text>
<text x="399.74" y="581.30" font-size="8.6" class="m">15</text>
<text x="422.38" y="570.80" font-size="8.5" class="m">Hom</text>
<text x="422.38" y="581.30" font-size="8.6" class="m">16</text>
<text x="345.4" y="455.70" font-size="12.6" class="m">Recipient 45.1</text>
<rect x="38.80" y="618.70" width="18.6" height="9.40" fill="#89A7C2"/>
<rect x="38.80" y="627.80" width="18.6" height="1.00" fill="#5C87AE"/>
<rect x="38.80" y="628.50" width="18.6" height="77.70" fill="#105282"/>
<rect x="64.72" y="618.70" width="18.6" height="16.93" fill="#89A7C2"/>
<rect x="64.72" y="635.33" width="18.6" height="1.00" fill="#5C87AE"/>
<rect x="64.72" y="636.03" width="18.6" height="70.17" fill="#105282"/>
<rect x="90.64" y="618.70" width="18.6" height="15.70" fill="#89A7C2"/>
<rect x="90.64" y="634.10" width="18.6" height="0.91" fill="#5C87AE"/>
<rect x="90.64" y="634.71" width="18.6" height="71.49" fill="#105282"/>
<rect x="116.56" y="618.70" width="18.6" height="15.79" fill="#89A7C2"/>
<rect x="116.56" y="634.19" width="18.6" height="1.00" fill="#5C87AE"/>
<rect x="116.56" y="634.89" width="18.6" height="71.31" fill="#105282"/>
<rect x="142.48" y="618.70" width="18.6" height="14.30" fill="#89A7C2"/>
<rect x="142.48" y="632.70" width="18.6" height="0.91" fill="#5C87AE"/>
<rect x="142.48" y="633.31" width="18.6" height="72.89" fill="#105282"/>
<rect x="168.40" y="618.70" width="18.6" height="9.22" fill="#89A7C2"/>
<rect x="168.40" y="627.62" width="18.6" height="1.00" fill="#5C87AE"/>
<rect x="168.40" y="628.33" width="18.6" height="77.88" fill="#105282"/>
<rect x="194.32" y="618.70" width="18.6" height="17.10" fill="#89A7C2"/>
<rect x="194.32" y="635.50" width="18.6" height="1.00" fill="#5C87AE"/>
<rect x="194.32" y="636.20" width="18.6" height="70.00" fill="#105282"/>
<path d="M35.6,596.3 V706.2 H222" class="ax"/>
<text x="27.4" y="709.80" font-size="10.4" class="e" textLength="6.2" lengthAdjust="spacingAndGlyphs">0</text>
<text x="27.4" y="692.30" font-size="10.4" class="e" textLength="12.4" lengthAdjust="spacingAndGlyphs">20</text>
<text x="27.4" y="674.80" font-size="10.4" class="e" textLength="12.4" lengthAdjust="spacingAndGlyphs">40</text>
<text x="27.4" y="657.30" font-size="10.4" class="e" textLength="12.4" lengthAdjust="spacingAndGlyphs">60</text>
<text x="27.4" y="639.80" font-size="10.4" class="e" textLength="12.4" lengthAdjust="spacingAndGlyphs">80</text>
<text x="27.4" y="622.30" font-size="10.4" class="e" textLength="18.6" lengthAdjust="spacingAndGlyphs">100</text>
<path d="M31.2,706.20H35.6M31.2,688.70H35.6M31.2,671.20H35.6M31.2,653.70H35.6M31.2,636.20H35.6M31.2,618.70H35.6M31.2,601.20H35.6M35.60,706.2V710.2M61.52,706.2V710.2M87.44,706.2V710.2M113.36,706.2V710.2M139.28,706.2V710.2M165.20,706.2V710.2M191.12,706.2V710.2M217.04,706.2V710.2" class="ax"/>
<text x="48.10" y="721.60" font-size="8.5" class="m">Hom</text>
<text x="48.10" y="732.10" font-size="8.6" class="m">2</text>
<text x="74.02" y="721.60" font-size="8.5" class="m">Hom</text>
<text x="74.02" y="732.10" font-size="8.6" class="m">3</text>
<text x="99.94" y="721.60" font-size="8.5" class="m">Hom</text>
<text x="99.94" y="732.10" font-size="8.6" class="m">4</text>
<text x="125.86" y="721.60" font-size="8.5" class="m">Hom</text>
<text x="125.86" y="732.10" font-size="8.6" class="m">5</text>
<text x="151.78" y="721.60" font-size="8.5" class="m">Hom</text>
<text x="151.78" y="732.10" font-size="8.6" class="m">6</text>
<text x="177.70" y="721.60" font-size="8.5" class="m">Hom</text>
<text x="177.70" y="732.10" font-size="8.6" class="m">7</text>
<text x="203.62" y="721.60" font-size="8.5" class="m">Hom</text>
<text x="203.62" y="732.10" font-size="8.6" class="m">8</text>
<text x="128.9" y="609.80" font-size="12.6" class="m">Donor 45.2</text>
<rect x="255.80" y="618.70" width="16.2" height="22.96" fill="#89A7C2"/>
<rect x="255.80" y="641.36" width="16.2" height="1.00" fill="#5C87AE"/>
<rect x="255.80" y="642.06" width="16.2" height="64.14" fill="#105282"/>
<rect x="278.44" y="618.70" width="16.2" height="2.92" fill="#89A7C2"/>
<rect x="278.44" y="621.33" width="16.2" height="0.91" fill="#5C87AE"/>
<rect x="278.44" y="621.94" width="16.2" height="84.26" fill="#105282"/>
<rect x="301.08" y="618.70" width="16.2" height="43.17" fill="#89A7C2"/>
<rect x="301.08" y="661.58" width="16.2" height="0.91" fill="#5C87AE"/>
<rect x="301.08" y="662.19" width="16.2" height="44.01" fill="#105282"/>
<rect x="323.72" y="618.70" width="16.2" height="23.49" fill="#89A7C2"/>
<rect x="323.72" y="641.89" width="16.2" height="1.00" fill="#5C87AE"/>
<rect x="323.72" y="642.59" width="16.2" height="63.61" fill="#105282"/>
<rect x="346.36" y="618.70" width="16.2" height="1.70" fill="#89A7C2"/>
<rect x="346.36" y="620.10" width="16.2" height="0.91" fill="#5C87AE"/>
<rect x="346.36" y="620.71" width="16.2" height="85.49" fill="#105282"/>
<rect x="369.00" y="618.70" width="16.2" height="9.22" fill="#89A7C2"/>
<rect x="369.00" y="627.62" width="16.2" height="1.00" fill="#5C87AE"/>
<rect x="369.00" y="628.33" width="16.2" height="77.88" fill="#105282"/>
<rect x="391.64" y="618.70" width="16.2" height="48.60" fill="#89A7C2"/>
<rect x="391.64" y="667.00" width="16.2" height="1.00" fill="#5C87AE"/>
<rect x="391.64" y="667.70" width="16.2" height="38.50" fill="#105282"/>
<rect x="414.28" y="618.70" width="16.2" height="20.51" fill="#89A7C2"/>
<rect x="414.28" y="638.91" width="16.2" height="1.00" fill="#5C87AE"/>
<rect x="414.28" y="639.61" width="16.2" height="66.59" fill="#105282"/>
<path d="M252.4,596.3 V706.2 H439.2" class="ax"/>
<text x="244.2" y="709.80" font-size="10.4" class="e" textLength="6.2" lengthAdjust="spacingAndGlyphs">0</text>
<text x="244.2" y="692.30" font-size="10.4" class="e" textLength="12.4" lengthAdjust="spacingAndGlyphs">20</text>
<text x="244.2" y="674.80" font-size="10.4" class="e" textLength="12.4" lengthAdjust="spacingAndGlyphs">40</text>
<text x="244.2" y="657.30" font-size="10.4" class="e" textLength="12.4" lengthAdjust="spacingAndGlyphs">60</text>
<text x="244.2" y="639.80" font-size="10.4" class="e" textLength="12.4" lengthAdjust="spacingAndGlyphs">80</text>
<text x="244.2" y="622.30" font-size="10.4" class="e" textLength="18.6" lengthAdjust="spacingAndGlyphs">100</text>
<path d="M248.0,706.20H252.4M248.0,688.70H252.4M248.0,671.20H252.4M248.0,653.70H252.4M248.0,636.20H252.4M248.0,618.70H252.4M248.0,601.20H252.4M252.40,706.2V710.2M275.04,706.2V710.2M297.68,706.2V710.2M320.32,706.2V710.2M342.96,706.2V710.2M365.60,706.2V710.2M388.24,706.2V710.2M410.88,706.2V710.2M433.52,706.2V710.2" class="ax"/>
<text x="263.90" y="721.60" font-size="8.5" class="m">Hom</text>
<text x="263.90" y="732.10" font-size="8.6" class="m">9</text>
<text x="286.54" y="721.60" font-size="8.5" class="m">Hom</text>
<text x="286.54" y="732.10" font-size="8.6" class="m">10</text>
<text x="309.18" y="721.60" font-size="8.5" class="m">Hom</text>
<text x="309.18" y="732.10" font-size="8.6" class="m">11</text>
<text x="331.82" y="721.60" font-size="8.5" class="m">Hom</text>
<text x="331.82" y="732.10" font-size="8.6" class="m">12</text>
<text x="354.46" y="721.60" font-size="8.5" class="m">Hom</text>
<text x="354.46" y="732.10" font-size="8.6" class="m">13</text>
<text x="377.10" y="721.60" font-size="8.5" class="m">Hom</text>
<text x="377.10" y="732.10" font-size="8.6" class="m">14</text>
<text x="399.74" y="721.60" font-size="8.5" class="m">Hom</text>
<text x="399.74" y="732.10" font-size="8.6" class="m">15</text>
<text x="422.38" y="721.60" font-size="8.5" class="m">Hom</text>
<text x="422.38" y="732.10" font-size="8.6" class="m">16</text>
<text x="345.8" y="609.80" font-size="12.6" class="m">Donor 45.2</text>
<rect x="438.8" y="465.20" width="10.2" height="5.8" fill="#E08797"/>
<text x="453.5" y="471.60" font-size="10.5">CD3+</text>
<rect x="438.8" y="476.95" width="10.2" height="5.8" fill="#D7566B"/>
<text x="453.5" y="483.35" font-size="10.5">Mac1+ Gr1+</text>
<rect x="438.8" y="488.70" width="10.2" height="5.8" fill="#C10F2D"/>
<text x="453.5" y="495.10" font-size="10.5">B220+</text>
<rect x="438.8" y="619.00" width="10.2" height="5.8" fill="#89A7C2"/>
<text x="453.5" y="625.40" font-size="10.5">CD3+</text>
<rect x="438.8" y="630.75" width="10.2" height="5.8" fill="#5C87AE"/>
<text x="453.5" y="637.15" font-size="10.5">Mac1+ Gr1+</text>
<rect x="438.8" y="642.50" width="10.2" height="5.8" fill="#105282"/>
<text x="453.5" y="648.90" font-size="10.5">B220+</text>
</svg>
</body></html>
